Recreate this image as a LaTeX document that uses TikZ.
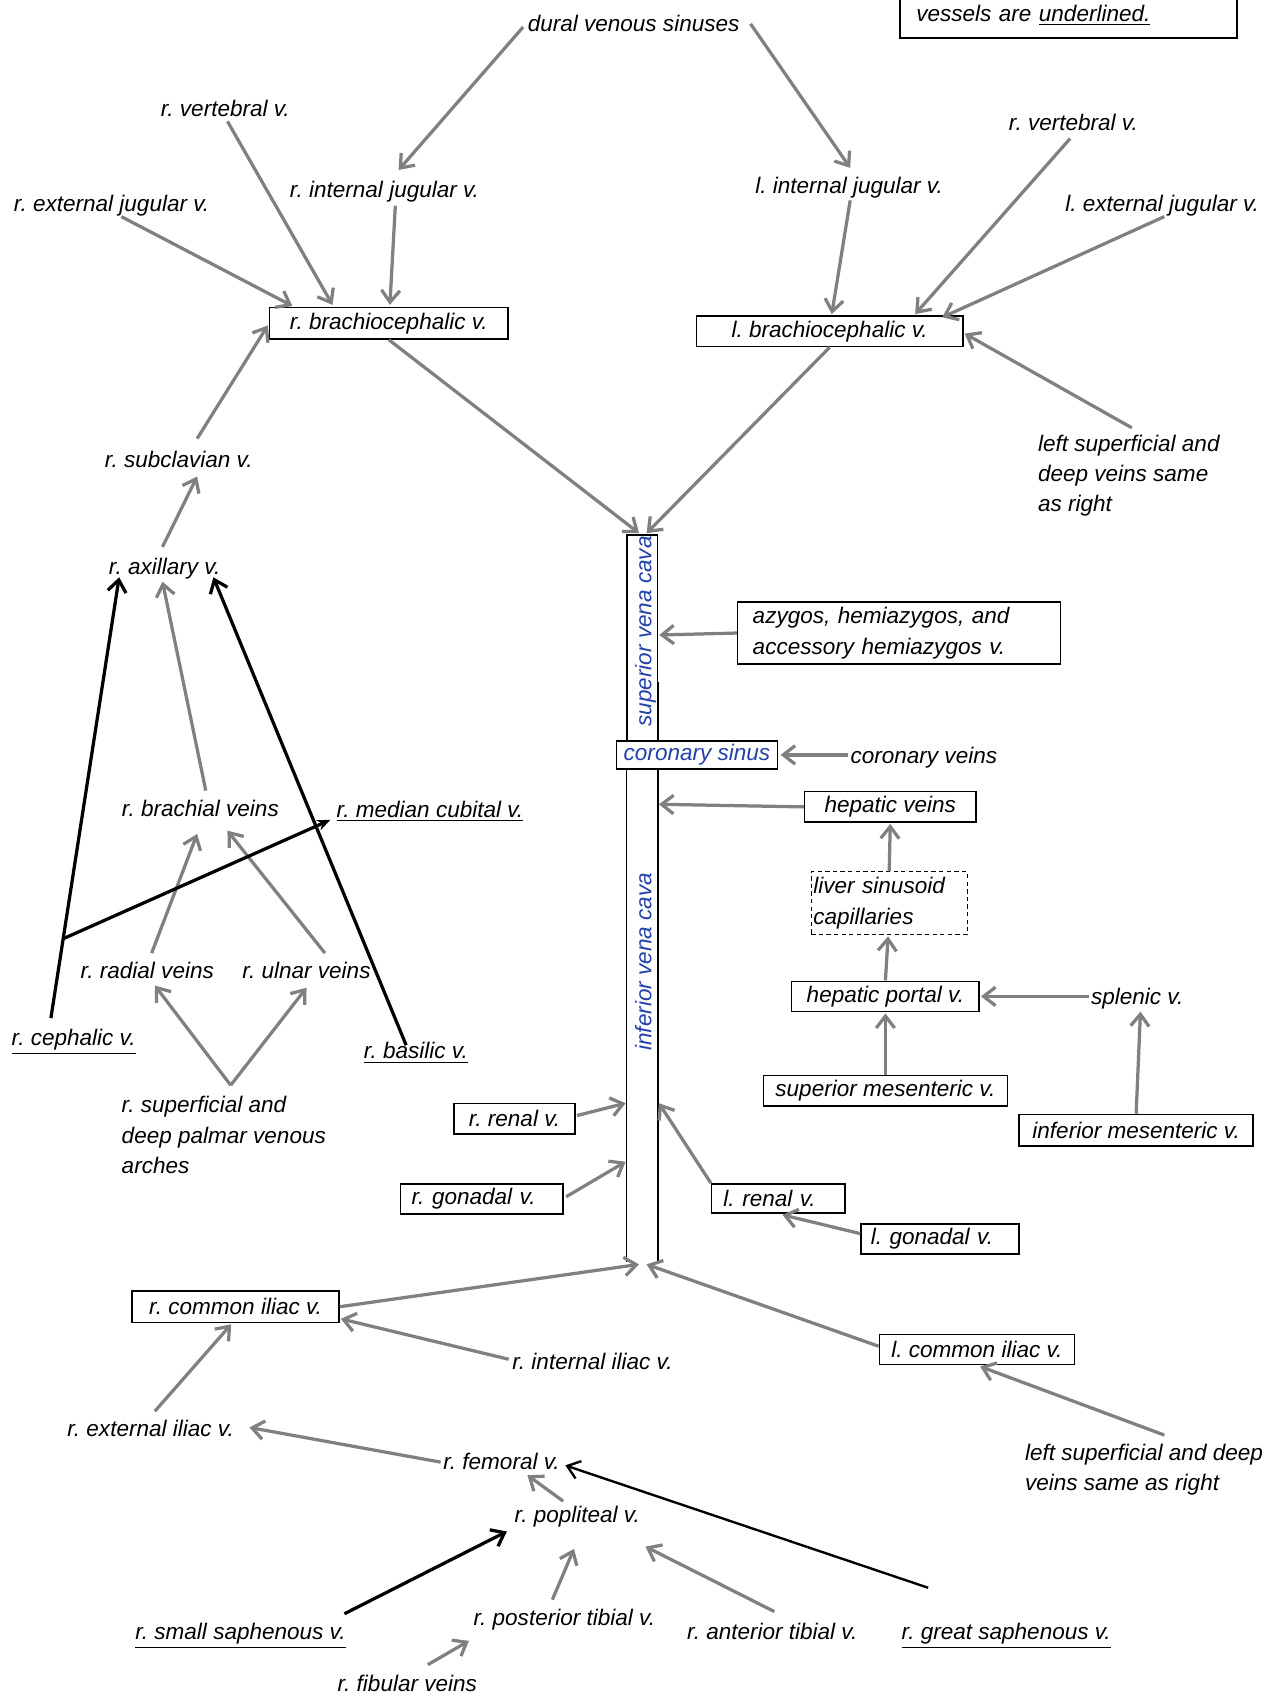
\documentclass[tikz,border=0pt]{standalone}
\usepackage{fontspec}
\setmainfont{Liberation Sans}
\usetikzlibrary{arrows.meta,calc}
\definecolor{veingray}{RGB}{128,128,128}
\definecolor{cavablue}{RGB}{35,65,170}
\frenchspacing

\begin{document}
\begin{tikzpicture}[x=0.5pt,y=-0.5pt,
  font=\fontsize{10.4}{14}\selectfont\itshape\frenchspacing,
  vein/.style={draw=veingray,line width=1.5pt,-{Straight Barb[length=5.5pt,width=8.5pt]}},
  supvein/.style={draw=black,line width=1.5pt,-{Straight Barb[length=5.5pt,width=8.5pt]}},
  vbox/.style={draw,line width=0.7pt,minimum width=#1,minimum height=14pt,inner sep=1pt},
  lbl/.style={inner sep=1pt,text height=7.5pt,text depth=0pt},
  note/.style={inner sep=1pt,anchor=north west,align=left}]
  \useasboundingbox (0,0) rectangle (1180,1572.4);

  \node[draw,line width=0.7pt,text width=140.5pt,inner xsep=7.5pt,minimum height=20.5pt,align=left] (legend) at (986.5,14.5) {vessels are \underline{underlined.}};

  \node[lbl] (dural) at (585,22) {dural venous sinuses};
  \node[lbl] (rvert) at (208,100) {r. vertebral v.};
  \node[lbl] (rej) at (103,188) {r. external jugular v.};
  \node[lbl] (rij) at (355,175) {r. internal jugular v.};
  \node[lbl] (lij) at (784,171) {l. internal jugular v.};
  \node[lbl] (lvert) at (991,113) {r. vertebral v.};
  \node[lbl] (lej) at (1073,188) {l. external jugular v.};
  \node[vbox=110pt,minimum height=14.5pt] (rbc) at (359,298.5) {r. brachiocephalic v.};
  \node[vbox=123pt] (lbc) at (766,306) {l. brachiocephalic v.};
  \node[note] (lsameup) at (956,399) {left superficial and\\deep veins same\\as right};

  \draw[vein] ($(dural)+(-102,3)$) -- ($(rij)+(13,-18)$);
  \draw[vein] ($(dural)+(108,0)$) -- ($(lij)+(1,-16)$);
  \draw[vein] ($(rej)+(9,12)$) -- ($(rbc)+(-89,-16)$);
  \draw[vein] ($(rvert)+(2,12)$) -- ($(rbc)+(-52,-17)$);
  \draw[vein] ($(rij)+(10,15)$) -- ($(rbc)+(1,-17)$);
  \draw[vein] ($(lij)+(1,14)$) -- ($(lbc)+(2,-16)$);
  \draw[vein] ($(lvert)+(-3,15)$) -- ($(lbc)+(79,-16)$);
  \draw[vein] ($(lej)+(2,12)$) -- ($(lbc)+(104,-13)$);
  \draw[vein] ($(lsameup.north west)+(89,-4)$) -- ($(lbc.east)+(1,2)$);

  \node[lbl] (rsub) at (165,424) {r. subclavian v.};
  \node[lbl] (rax) at (152,523) {r. axillary v.};
  \node[lbl] (rbr) at (185,746) {r. brachial veins};
  \node[lbl] (rmc) at (397,747) {\underline{r. median cubital v.}};
  \node[lbl] (rrad) at (136,896) {r. radial veins};
  \node[lbl] (rul) at (283,896) {r. ulnar veins};
  \node[lbl] (rceph) at (68,958) {\underline{r. cephalic v.}};
  \node[lbl] (rbas) at (384,970) {\underline{r. basilic v.}};
  \node[note] (palm) at (110,1010) {r. superficial and\\deep palmar venous\\arches};

  \draw[vein] ($(rsub)+(17,-19)$) -- ($(rbc.west)+(-1,2)$);
  \draw[vein] ($(rax)+(-2,-18)$) -- ($(rsub)+(17,16)$);
  \draw[vein] ($(rbr)+(5,-16)$) -- ($(rax)+(-2,14)$);
  \draw[vein] ($(rrad)+(4,-16)$) -- ($(rbr)+(-3,24)$);
  \draw[vein] ($(rul)+(17,-16)$) -- ($(rbr)+(25,21)$);
  \draw[vein] ($(palm.north west)+(103,-8)$) -- ($(rrad)+(7,14)$);
  \draw[vein] ($(palm.north west)+(103,-8)$) -- ($(rul)+(0,16)$);

  \coordinate (cephfoot) at ($(rceph)+(-21,-18)$);
  \coordinate (cephtop) at ($(rax)+(-42,10)$);
  \draw[supvein] (cephfoot) -- (cephtop);
  \draw[supvein] ($(rbas)+(-9,-5)$) -- ($(rax)+(45,10)$);
  \draw[supvein,-{Stealth[length=6pt,width=5pt]}] ($(cephfoot)!0.18!(cephtop)$) -- ($(rmc)+(-92,10)$);

  \node[draw,line width=0.7pt,minimum width=14pt,minimum height=95pt,inner sep=0pt] (svc) at (593,589) {};
  \node[inner sep=0pt,minimum width=14pt,minimum height=227.5pt] (ivc) at (593,937.5) {};
  \draw[line width=0.7pt] (ivc.north west) -- (ivc.south west) (ivc.north east) -- (ivc.south east);
  \draw[line width=1.1pt] ($(svc.north east)+(0,136)$) -- (svc.south east);
  \node[lbl,rotate=90,text=cavablue] (svclbl) at ($(svc)+(1,-6)$) {superior vena cava};
  \node[lbl,rotate=90,text=cavablue] (ivclbl) at ($(ivc)+(1,-49.5)$) {inferior vena cava};
  \node[vbox=74.5pt,minimum height=13pt,fill=white,text=cavablue] (cs) at (643.5,697) {coronary sinus};

  \node[vbox=149pt,minimum height=28.5pt,text width=135pt,inner xsep=7pt,align=left] (azy) at (830,584.5) {azygos, hemiazygos, and\\accessory hemiazygos v.};
  \node[lbl] (cv) at (853,697) {coronary veins};
  \node[vbox=79pt] (hv) at (822,745) {hepatic veins};
  \node[vbox=72pt,line width=0.5pt,dash pattern=on 2pt off 1.5pt,minimum height=29pt,text width=70pt,inner xsep=1pt,align=left] (lsc) at (821,834) {liver sinusoid\\capillaries};
  \node[vbox=86.5pt] (hpv) at (817.5,920) {hepatic portal v.};
  \node[lbl] (spl) at (1050,920) {splenic v.};
  \node[vbox=112.5pt] (smv) at (817.5,1007) {superior mesenteric v.};
  \node[vbox=108pt,minimum height=14.5pt] (imv) at (1049,1043.5) {inferior mesenteric v.};

  \draw[vein] (rbc.south) -- ($(svc.north)+(-3,-1)$);
  \draw[vein] (lbc.south) -- ($(svc.north)+(4,-1)$);
  \draw[vein] (azy.west) -- ($(svc.north east)+(1,93)$);
  \draw[vein] (cv.west) -- ($(cs.east)+(2,0)$);
  \draw[vein] (hv.west) -- ($(ivc.north east)+(1,33)$);
  \draw[vein] (lsc.north) -- ($(hv.south)+(0,1)$);
  \draw[vein] (hpv.north) -- ($(lsc.south)+(-1,1)$);
  \draw[vein] (spl.west) -- ($(hpv.east)+(1,0)$);
  \draw[vein] (smv.north) -- ($(hpv.south)+(0,1)$);
  \draw[vein] (imv.north) -- ($(spl)+(3,14)$);

  \node[vbox=56pt] (rrv) at (475,1033) {r. renal v.};
  \node[vbox=75pt,text width=65pt,inner xsep=5pt,align=left] (rgv) at (445,1107) {r. gonadal v.};
  \node[vbox=61.5pt,minimum height=13.5pt,text width=50.5pt,inner xsep=5.5pt,align=left] (lrv) at (718.5,1106.5) {l. renal v.};
  \node[vbox=73pt,text width=64pt,inner xsep=4.5pt,align=left] (lgv) at (868,1144) {l. gonadal v.};
  \node[vbox=95.5pt,minimum height=14.5pt] (rci) at (217.5,1206.5) {r. common iliac v.};
  \node[vbox=90pt] (lci) at (902,1246) {l. common iliac v.};
  \node[lbl] (rii) at (547,1257) {r. internal iliac v.};
  \node[note] (lsamelow) at (944,1331) {left superficial and deep\\veins same as right};

  \draw[vein] ($(rrv.east)+(1,-3)$) -- ($(ivc.north west)+(-1,309)$);
  \draw[vein] ($(rgv.east)+(2,-2)$) -- ($(ivc.north west)+(-1,363)$);
  \draw[vein] (lrv.north west) -- ($(ivc.north east)+(1,309)$);
  \draw[vein] ($(lgv.west)+(0,-5)$) -- ($(lrv.south)+(4,1)$);
  \draw[vein] (rci.east) -- ($(ivc.south)+(-3,2)$);
  \draw[vein] ($(lci.west)+(0,-3)$) -- ($(ivc.south)+(4,2)$);
  \draw[vein] ($(rii.west)+(-1,-2)$) -- ($(rci.south east)+(1,-4)$);
  \draw[vein] ($(lsamelow.north west)+(131,-6)$) -- ($(lci.south)+(3,1)$);

  \node[lbl] (rei) at (139,1319) {r. external iliac v.};
  \node[lbl] (rfem) at (463,1349) {r. femoral v.};
  \node[lbl] (rpop) at (533,1398) {r. popliteal v.};
  \node[lbl] (rss) at (222,1506) {\underline{r. small saphenous v.}};
  \node[lbl] (rpt) at (521,1493) {r. posterior tibial v.};
  \node[lbl] (rat) at (713,1506) {r. anterior tibial v.};
  \node[lbl] (rgs) at (929,1506) {\underline{r. great saphenous v.}};
  \node[lbl] (rfib) at (376,1554) {r. fibular veins};

  \draw[vein] ($(rei)+(4,-16)$) -- ($(rci.south)+(-4,1)$);
  \draw[vein] ($(rfem.west)+(0,1)$) -- ($(rei.east)+(12,-1)$);
  \draw[vein] ($(rpop)+(-13,-12)$) -- ($(rfem)+(24,13)$);
  \draw[vein] ($(rpt)+(-11,-16)$) -- ($(rpop)+(-3,32)$);
  \draw[vein] ($(rat)+(2,-18)$) -- ($(rpop)+(63,30)$);
  \draw[vein] ($(rfib)+(19,-17)$) -- ($(rpt)+(-88,22)$);
  \draw[supvein] ($(rss)+(96,-16)$) -- ($(rpop)+(-65,16)$);
  \draw[supvein,line width=1.1pt] ($(rgs)+(-72,-40)$) -- ($(rfem)+(59,4)$);
\end{tikzpicture}
\end{document}
